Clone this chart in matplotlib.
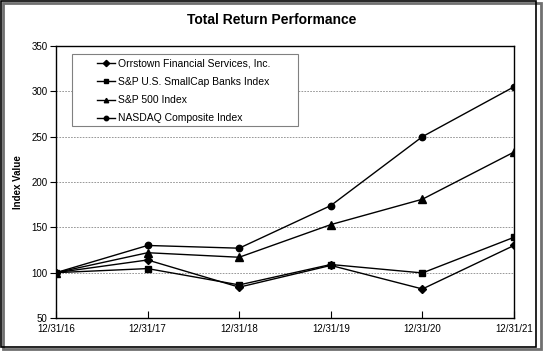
import matplotlib
matplotlib.use("Agg")
import matplotlib.pyplot as plt
from matplotlib.patches import Rectangle

plt.rcParams['font.family'] = ['Liberation Sans', 'DejaVu Sans']

dates = ["12/31/16", "12/31/17", "12/31/18", "12/31/19", "12/31/20", "12/31/21"]
orrstown = [100, 114, 84, 108, 82, 130]
smallcap_banks = [100, 104.5, 86.5, 109, 99.7, 139]
sp500 = [100, 122, 117, 153, 181, 233]
nasdaq = [100, 130, 127, 174, 250, 305]

series_names = ["Orrstown Financial Services, Inc.", "S&P U.S. SmallCap Banks Index",
                "S&P 500 Index", "NASDAQ Composite Index"]
yticks = [50, 100, 150, 200, 250, 300, 350]

W, H = 543, 353
fig = plt.figure(figsize=(W/100, H/100), dpi=100)
ax = fig.add_axes([56/W, 1-318/H, 458/W, 272/H])

x = list(range(len(dates)))
ax.plot(x, orrstown, color='black', lw=1, marker='D', ms=4, label=series_names[0])
ax.plot(x, smallcap_banks, color='black', lw=1, marker='s', ms=4.8, label=series_names[1])
ax.plot(x, sp500, color='black', lw=1, marker='^', ms=5.2, label=series_names[2])
ax.plot(x, nasdaq, color='black', lw=1, marker='o', ms=4.6, label=series_names[3])

ax.set_xlim(0, len(dates)-1)
ax.set_ylim(50, 350)
ax.set_yticks(yticks)
ax.set_xticks(x)
ax.set_xticklabels(dates)
ax.tick_params(axis='y', direction='out', length=4, width=0.8, labelsize=7, pad=2)
ax.tick_params(axis='x', direction='in', length=5, width=0.8, labelsize=7, pad=4)
for s in ax.spines.values():
    s.set_linewidth(1)
    s.set_color('black')
ax.yaxis.grid(True, color='#888888', linestyle=(0, (2, 1.5)), linewidth=0.6)
ax.set_axisbelow(True)

ax.set_ylabel("Index Value", fontsize=7, fontweight='bold', labelpad=6)
fig.text(0.5, 1-20/H, "Total Return Performance", ha='center', va='center',
         fontsize=10, fontweight='bold')

# legend frame drawn separately
fig.patches.append(Rectangle((72/W, 1-126/H), 226/W, 72/H, transform=fig.transFigure,
                             facecolor='white', edgecolor='#808080', linewidth=0.8, zorder=3))
leg = fig.legend(loc='upper left', bbox_to_anchor=(97/W, 1-59/H),
                 fontsize=7.5, frameon=False, handlelength=1.7,
                 borderpad=0, labelspacing=0.78, handletextpad=0.3,
                 borderaxespad=0)
leg.set_zorder(4)
for h in leg.legend_handles:
    h.set_markersize(3.2)

# outer frame with shadow
fig.patches.append(Rectangle((3/W, 4/H), 538/W, 346/H, transform=fig.transFigure,
                             fill=False, edgecolor='#707070', linewidth=2.0))
fig.patches.append(Rectangle((1/W, 6/H), 535/W, 346/H, transform=fig.transFigure,
                             fill=False, edgecolor='black', linewidth=1.2))

fig.savefig("out.png", dpi=100)
